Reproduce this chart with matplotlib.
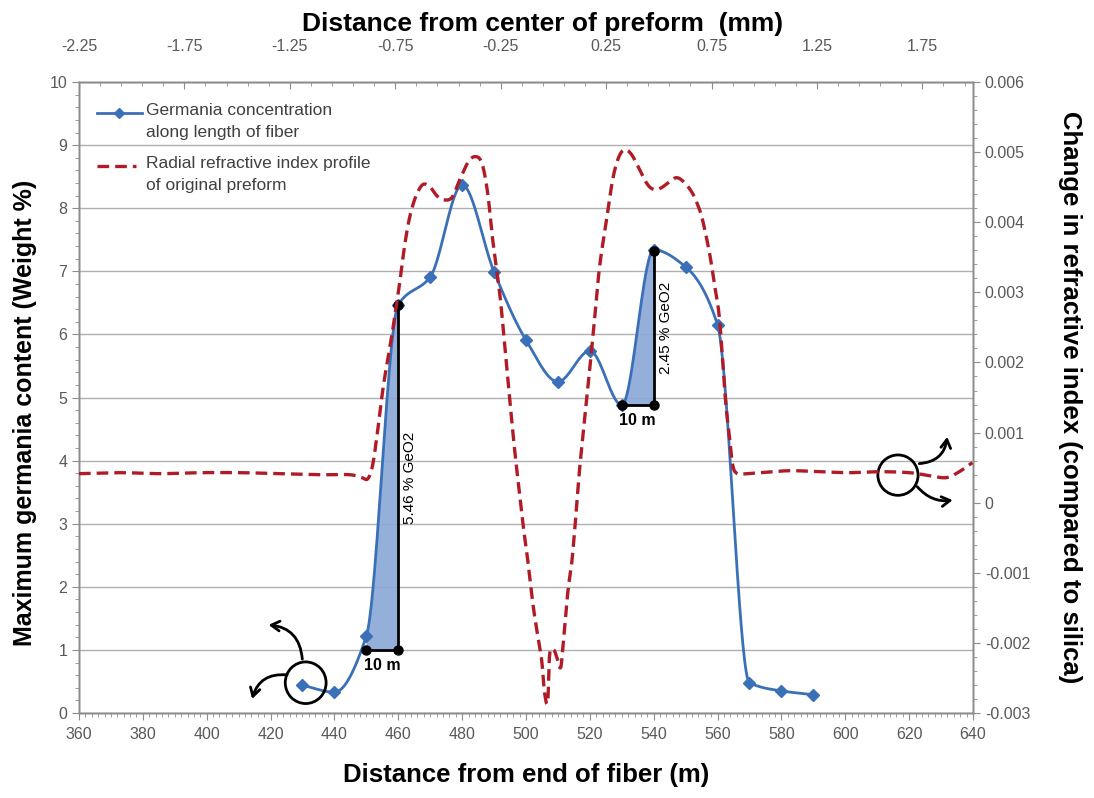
import matplotlib
matplotlib.use("Agg")
import matplotlib.pyplot as plt
import numpy as np
from matplotlib.patches import Ellipse
from matplotlib.ticker import MultipleLocator, FixedLocator, FuncFormatter

plt.rcParams['font.family'] = ['Liberation Sans', 'DejaVu Sans']
plt.rcParams['axes.unicode_minus'] = False

# germania concentration measured along the fiber
fiber_m = [430, 440, 450, 460, 470, 480, 490, 500, 510, 520, 530, 540, 550, 560, 570, 580, 590]
geo2_wt = [0.44, 0.33, 1.22, 6.47, 6.91, 8.37, 6.99, 5.91, 5.25, 5.74, 4.88, 7.34, 7.07, 6.15, 0.48, 0.35, 0.29]

# radial refractive index profile of the preform (x in mm, dn in units of 1e-3)
preform_mm = [-2.250, -2.056, -1.866, -1.677, -1.487, -1.297, -1.108, -0.966, -0.909, -0.880,
              -0.857, -0.833, -0.809, -0.786, -0.762, -0.729, -0.705, -0.681, -0.653, -0.620,
              -0.587, -0.553, -0.525, -0.482, -0.444, -0.406, -0.373, -0.340, -0.312, -0.288,
              -0.255, -0.232, -0.207, -0.184, -0.160, -0.141, -0.122, -0.098, -0.079, -0.056,
              -0.042, -0.027, -0.018, 0.001, 0.020, 0.034, 0.044, 0.068, 0.087, 0.105,
              0.124, 0.148, 0.172, 0.195, 0.219, 0.252, 0.281, 0.309, 0.338, 0.371,
              0.409, 0.447, 0.480, 0.513, 0.551, 0.584, 0.617, 0.655, 0.684, 0.707,
              0.740, 0.764, 0.788, 0.816, 0.835, 0.850, 0.869, 0.906, 0.977, 1.120,
              1.262, 1.404, 1.546, 1.688, 1.783, 1.864, 1.925, 1.987]
preform_dn = [0.414, 0.428, 0.414, 0.428, 0.428, 0.414, 0.399, 0.399, 0.357, 0.342,
              0.542, 1.041, 1.612, 2.040, 2.468, 3.138, 3.680, 4.080, 4.365, 4.536,
              4.508, 4.379, 4.322, 4.351, 4.608, 4.850, 4.936, 4.850, 4.422, 3.752,
              2.996, 2.282, 1.469, 0.756, 0.114, -0.385, -0.813, -1.427, -1.812, -2.240,
              -2.710, -2.839, -2.168, -2.097, -2.240, -2.354, -2.097, -1.284, -0.856, -0.243,
              0.471, 1.184, 1.897, 2.611, 3.367, 4.037, 4.608, 4.922, 5.036, 4.964,
              4.750, 4.536, 4.465, 4.494, 4.579, 4.636, 4.579, 4.437, 4.251, 4.037,
              3.566, 3.110, 2.611, 1.469, 0.942, 0.542, 0.420, 0.410, 0.428, 0.456,
              0.442, 0.428, 0.442, 0.428, 0.385, 0.357, 0.442, 0.571]

# steps marked on the germania curve: (start m, end m, base wt%, rise wt%, label)
steps = [(450, 460, 1.00, 5.46, '5.46 % GeO2'),
         (530, 540, 4.88, 2.45, '2.45 % GeO2')]

legend_labels = ['Germania concentration\nalong length of fiber',
                 'Radial refractive index profile\nof original preform']

BLUE = '#3a70b8'
RED = '#b01c26'
FILL = '#8aa6d8'
TICK = '#595959'
DASH = (0, (3.5, 1.8))


def smooth_cr(xs, ys, sx, sy, n=12):
    # Catmull-Rom through the points, done in screen-like units
    p = np.column_stack([np.asarray(xs, float) * sx, np.asarray(ys, float) * sy])
    p = np.vstack([2 * p[0] - p[1], p, 2 * p[-1] - p[-2]])
    t = np.linspace(0, 1, n)[:, None]
    out = []
    for i in range(1, len(p) - 2):
        p0, p1, p2, p3 = p[i - 1], p[i], p[i + 1], p[i + 2]
        seg = 0.5 * (2 * p1 + (-p0 + p2) * t + (2 * p0 - 5 * p1 + 4 * p2 - p3) * t ** 2
                     + (-p0 + 3 * p1 - 3 * p2 + p3) * t ** 3)
        out.append(seg if i == 1 else seg[1:])
    out = np.vstack(out)
    return out[:, 0] / sx, out[:, 1] / sy


def smooth_mono(xs, ys, n=40):
    # monotone cubic (Fritsch-Carlson), no overshoot between points
    x = np.asarray(xs, float)
    y = np.asarray(ys, float)
    h = np.diff(x)
    d = np.diff(y) / h
    m = np.zeros_like(y)
    m[0], m[-1] = d[0], d[-1]
    for i in range(1, len(x) - 1):
        if d[i - 1] * d[i] > 0:
            w1 = 2 * h[i] + h[i - 1]
            w2 = h[i] + 2 * h[i - 1]
            m[i] = (w1 + w2) / (w1 / d[i - 1] + w2 / d[i])
    xo, yo = [], []
    t = np.linspace(0, 1, n)
    for i in range(len(x) - 1):
        h00 = 2 * t ** 3 - 3 * t ** 2 + 1
        h10 = t ** 3 - 2 * t ** 2 + t
        h01 = -2 * t ** 3 + 3 * t ** 2
        h11 = t ** 3 - t ** 2
        seg = h00 * y[i] + h10 * h[i] * m[i] + h01 * y[i + 1] + h11 * h[i] * m[i + 1]
        xs_ = x[i] + t * h[i]
        xo.append(xs_ if i == 0 else xs_[1:])
        yo.append(seg if i == 0 else seg[1:])
    return np.concatenate(xo), np.concatenate(yo)


fig = plt.figure(figsize=(10.94, 7.98), dpi=100)
ax = fig.add_axes([0.0722, 0.1065, 0.8172, 0.7907])
ax2 = ax.twinx()
ax3 = ax2.twiny()

# primary axes: fiber length vs germania
ax.set_xlim(360, 640)
ax.set_ylim(0, 10)
ax.xaxis.set_major_locator(MultipleLocator(20))
ax.xaxis.set_minor_locator(MultipleLocator(2))
ax.yaxis.set_major_locator(MultipleLocator(1))
ax.yaxis.set_minor_locator(MultipleLocator(0.2))
ax.grid(axis='y', which='major', color='#b0b0b0', lw=1.0)
ax.set_axisbelow(True)

ax2.set_ylim(-0.003, 0.006)
ax2.yaxis.set_major_locator(MultipleLocator(0.001))
ax2.yaxis.set_minor_locator(MultipleLocator(0.0002))
ax2.yaxis.set_major_formatter(FuncFormatter(lambda v, p: '0' if abs(v) < 1e-9 else '%.3f' % v))

ax3.set_xlim(-2.25, 1.99)
ax3.xaxis.set_major_locator(FixedLocator(np.arange(-2.25, 1.8, 0.5)))
ax3.xaxis.set_minor_locator(FixedLocator(np.arange(-2.25, 1.99, 0.1)))
ax3.xaxis.set_major_formatter(FuncFormatter(lambda v, p: '%.2f' % v))

for a in (ax, ax2, ax3):
    for s in a.spines.values():
        s.set_color('#8c8c8c')
        s.set_linewidth(1.0)
    a.tick_params(which='both', colors='#8c8c8c', labelcolor=TICK, labelsize=11.5)
    a.tick_params(which='major', length=5)
    a.tick_params(which='minor', length=3)
ax3.tick_params(axis='x', which='both', direction='in', pad=20)
ax.tick_params(axis='x', pad=5)

# germania concentration
bx, by = smooth_mono(fiber_m, geo2_wt)
ax.plot(bx, by, color=BLUE, lw=2.0, zorder=3)
ax.plot(fiber_m, geo2_wt, ls='none', marker='D', ms=6.5, color=BLUE, zorder=4)

# shaded steps with their brackets
for x0, x1, base, rise, txt in steps:
    m = (bx >= x0) & (bx <= x1)
    px = np.concatenate([[x0], bx[m], [x1]])
    py = np.concatenate([[base], np.maximum(by[m], base), [base]])
    ax.fill(px, py, color=FILL, alpha=0.9, zorder=2, lw=0)
    ax.plot([x0, x1, x1], [base, base, base + rise], color='black', lw=2, zorder=5)
    ax.plot([x0, x1, x1], [base, base, base + rise], ls='none', marker='o', ms=6.5,
            color='black', zorder=6)
    ax.text((x0 + x1) / 2, base - 0.13, '10 m', ha='center', va='top',
            fontsize=11.5, fontweight='bold', zorder=6)
    ax.text(x1 + 1.5, base + rise / 2, txt, rotation=90, ha='left', va='center',
            fontsize=11, zorder=6)

# refractive index profile
rx, ry = smooth_cr(preform_mm, np.array(preform_dn) * 1e-3, 211.0, 70100.0)
ax3.plot(rx, ry, color=RED, lw=2.4, ls=DASH, zorder=3)

# circles telling which axes each curve belongs to
arrow = dict(arrowstyle='->,head_length=0.6,head_width=0.35', lw=2, color='black')
ax.add_patch(Ellipse((431, 0.48), 12.8, 0.66, fill=False, lw=2, color='black', zorder=6))
ax.annotate('', xy=(418.5, 1.40), xytext=(430.0, 0.81),
            arrowprops=dict(arrow, connectionstyle='arc3,rad=0.45'), zorder=6)
ax.annotate('', xy=(414.0, 0.18), xytext=(426.0, 0.60),
            arrowprops=dict(arrow, connectionstyle='arc3,rad=0.45'), zorder=6)
ax.add_patch(Ellipse((616.5, 3.77), 12.6, 0.64, fill=False, lw=2, color='black', zorder=6))
ax.annotate('', xy=(632.0, 4.42), xytext=(622.3, 3.95),
            arrowprops=dict(arrow, connectionstyle='arc3,rad=0.45'), zorder=6)
ax.annotate('', xy=(634.5, 3.38), xytext=(622.0, 3.62),
            arrowprops=dict(arrow, connectionstyle='arc3,rad=0.3'), zorder=6)

# legend, laid out by hand in axes fractions
tr = ax3.transAxes
ax3.plot([0.020, 0.070], [0.951, 0.951], color=BLUE, lw=2.0, transform=tr, clip_on=False)
ax3.plot([0.045], [0.951], marker='D', ms=5, color=BLUE, transform=tr, clip_on=False)
ax3.plot([0.020, 0.064], [0.867, 0.867], color=RED, lw=2.4, ls=DASH, transform=tr,
         clip_on=False)
for ytop, lab in zip([0.966, 0.882], legend_labels):
    ax3.text(0.075, ytop, lab, transform=tr, ha='left', va='top', fontsize=12.5,
             color='#404040', linespacing=1.55)

ax.set_xlabel('Distance from end of fiber (m)', fontsize=18.5, fontweight='bold', labelpad=15)
ax.set_ylabel('Maximum germania content (Weight %)', fontsize=18, fontweight='bold')
ax.yaxis.set_label_coords(-0.047, 0.475)
ax3.set_xlabel('Distance from center of preform  (mm)', fontsize=19, fontweight='bold')
ax3.xaxis.set_label_coords(0.519, 1.081)
ax2.set_ylabel('Change in refractive index (compared to silica)', fontsize=18.5, fontweight='bold',
               rotation=270)
ax2.yaxis.set_label_coords(1.122, 0.50)

fig.savefig('out.png', dpi=100)
